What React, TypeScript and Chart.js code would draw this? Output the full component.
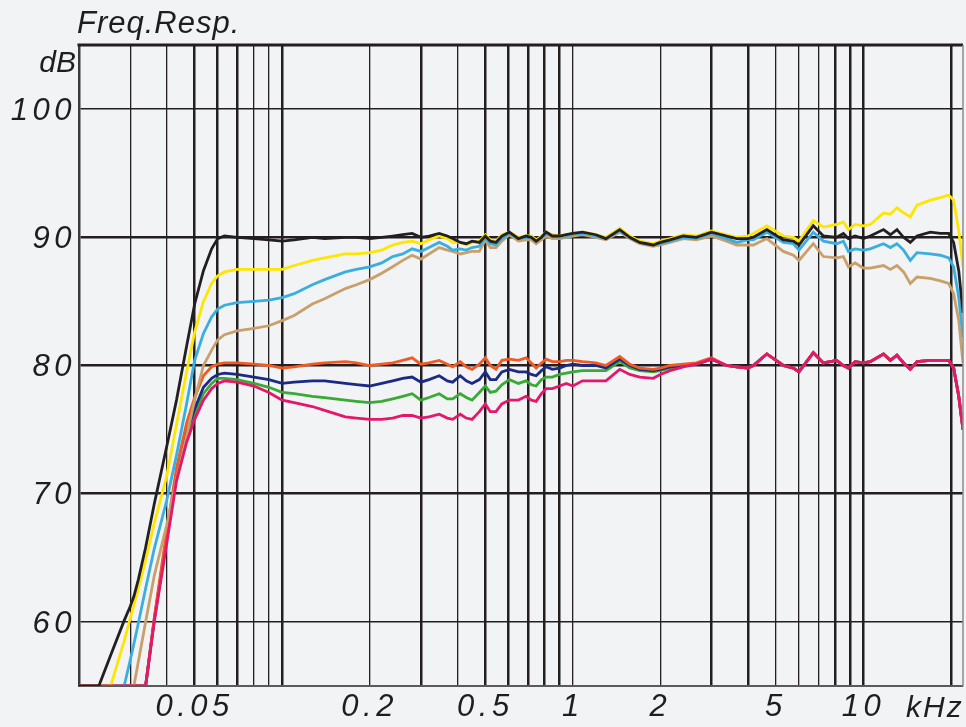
import { useEffect, useRef } from "react";
import { Chart, registerables } from "chart.js";

Chart.register(...registerables);

const TITLE = "Freq.Resp.";
const Y_UNIT = "dB";
const X_UNIT = "kHz";

// frequency points (kHz)
const FREQ_KHZ = [
  0.02, 0.0234, 0.0257, 0.0286, 0.03, 0.0309, 0.032, 0.0339, 0.0363, 0.04,
  0.0433, 0.0469, 0.05, 0.0536, 0.0572, 0.06, 0.0633, 0.07, 0.08, 0.09,
  0.1, 0.11, 0.127, 0.14, 0.165, 0.18, 0.2, 0.22, 0.24, 0.26,
  0.28, 0.3, 0.32, 0.347, 0.37, 0.386, 0.41, 0.43, 0.45, 0.477,
  0.5, 0.52, 0.544, 0.57, 0.605, 0.65, 0.69, 0.72, 0.748, 0.78,
  0.81, 0.85, 0.9, 0.95, 1.0, 1.08, 1.2, 1.3, 1.45, 1.57,
  1.7, 1.89, 2.0, 2.16, 2.4, 2.66, 3.0, 3.38, 3.66, 4.0,
  4.18, 4.65, 5.3, 5.74, 6.0, 6.72, 7.28, 8.09, 8.53, 8.87,
  9.36, 10.0, 10.55, 11.72, 12.37, 13.04, 13.74, 14.49, 15.28, 16.98,
  18.39, 19.64, 20.43, 21.27, 22.0,
];

const BLACK_DB = [
  55, 55, 57.4, 60.1, 61.2, 62.0, 63.3, 65.8, 69.2, 73.6,
  77.3, 81.5, 84.8, 87.4, 89.1, 89.9, 90.1, 90.0, 89.9, 89.8,
  89.7, 89.8, 90.0, 89.9, 90.0, 90.0, 89.9, 90.0, 90.1, 90.2,
  90.3, 90.0, 90.1, 90.3, 90.1, 89.9, 89.6, 89.5, 89.7, 89.6,
  90.1, 89.7, 89.6, 90.1, 90.4, 89.9, 90.1, 90.0, 89.7, 90.0,
  90.4, 90.1, 90.1, 90.2, 90.3, 90.4, 90.2, 89.9, 90.6, 90.0,
  89.6, 89.4, 89.6, 89.8, 90.1, 90.0, 90.4, 90.1, 89.9, 89.9,
  90.0, 90.6, 89.8, 89.7, 89.4, 90.9, 90.1, 90.0, 90.3, 89.9,
  90.1, 89.9, 90.1, 90.6, 90.2, 90.6, 90.0, 89.6, 90.1, 90.4,
  90.3, 90.3, 89.6, 87.4, 84.1,
];

const YELLOW_DB = [
  55, 55, 55, 58.5, 60.3, 61.3, 62.6, 64.8, 67.7, 71.3,
  75.4, 79.5, 82.6, 85.0, 86.4, 87.0, 87.3, 87.5, 87.5, 87.5,
  87.5, 87.8, 88.2, 88.4, 88.7, 88.7, 88.8, 89.0, 89.4, 89.6,
  89.7, 89.5, 89.8, 90.1, 89.9, 89.6, 89.6, 89.4, 89.6, 89.7,
  90.2, 89.8, 89.7, 90.2, 90.4, 90.0, 90.1, 90.1, 89.8, 90.1,
  90.4, 90.2, 90.1, 90.2, 90.3, 90.4, 90.2, 90.0, 90.7, 90.1,
  89.7, 89.5, 89.7, 89.9, 90.2, 90.1, 90.5, 90.2, 90.0, 90.1,
  90.3, 90.9, 90.1, 90.0, 89.7, 91.3, 90.8, 91.0, 91.2, 90.6,
  91.0, 90.9, 91.0, 91.9, 91.8, 92.3, 91.9, 91.6, 92.5, 92.9,
  93.1, 93.3, 92.9, 90.5, 87.7,
];

const BLUE_DB = [
  55, 55, 55, 55, 57.0, 58.3, 59.9, 62.6, 65.7, 69.4,
  73.0, 77.0, 80.4, 82.5, 83.8, 84.4, 84.7, 84.9, 85.0, 85.1,
  85.3, 85.6, 86.3, 86.7, 87.3, 87.5, 87.7, 88.0, 88.5, 88.7,
  89.1, 88.9, 89.2, 89.6, 89.3, 89.0, 89.1, 89.0, 89.2, 89.3,
  90.0, 89.5, 89.4, 89.9, 90.3, 89.9, 90.0, 90.0, 89.7, 90.0,
  90.3, 90.1, 90.0, 90.1, 90.2, 90.3, 90.1, 89.9, 90.5, 90.0,
  89.6, 89.4, 89.5, 89.7, 90.0, 89.9, 90.3, 89.9, 89.6, 89.8,
  89.8, 90.4, 89.6, 89.5, 89.0, 90.4, 89.7, 89.5, 89.7, 88.9,
  89.1, 89.0, 89.1, 89.5, 89.2, 89.5, 89.0, 88.2, 88.8, 88.7,
  88.6, 88.4, 87.7, 85.3, 82.2,
];

const TAN_DB = [
  55, 55, 55, 55, 55, 55, 56.9, 60.0, 63.6, 67.5,
  71.1, 74.5, 77.3, 80.0, 81.2, 82.0, 82.4, 82.7, 82.9, 83.1,
  83.5, 83.9, 84.8, 85.2, 86.0, 86.3, 86.7, 87.2, 87.7, 88.2,
  88.6, 88.3, 88.7, 89.2, 89.0, 88.9, 88.7, 88.8, 88.9, 88.9,
  89.8, 89.2, 89.2, 89.7, 90.2, 89.7, 89.8, 89.8, 89.5, 89.8,
  90.1, 89.9, 89.9, 90.0, 90.1, 90.2, 90.0, 89.8, 90.4, 89.9,
  89.5, 89.3, 89.4, 89.6, 89.9, 89.8, 90.1, 89.7, 89.4, 89.4,
  89.4, 89.9, 88.9, 88.6, 88.2, 89.5, 88.5, 88.4, 88.5, 87.7,
  88.0, 87.6, 87.6, 87.8, 87.5, 87.8, 87.3, 86.4, 86.9, 86.8,
  86.6, 86.4, 85.6, 83.5, 80.2,
];

const RED_DB = [
  55, 55, 55, 55, 55, 55, 55, 55, 60.3, 67.0,
  72.0, 75.5, 77.5, 79.2, 79.9, 80.1, 80.2, 80.2, 80.1, 80.0,
  79.8, 79.9, 80.1, 80.2, 80.3, 80.2, 80.0, 80.1, 80.2, 80.4,
  80.6, 80.1, 80.2, 80.4, 80.1, 79.9, 80.3, 79.9, 79.7, 80.1,
  80.6, 80.0, 79.7, 80.4, 80.5, 80.4, 80.6, 80.2, 79.8, 80.2,
  80.5, 80.3, 80.3, 80.4, 80.4, 80.3, 80.2, 80.0, 80.7, 80.1,
  79.8, 79.7, 79.8, 80.0, 80.1, 80.2, 80.6, 80.0, 79.9, 79.8,
  80.0, 80.9, 80.0, 79.8, 79.5, 81.0, 80.2, 80.4, 80.0, 79.8,
  80.3, 80.2, 80.3, 80.9, 80.4, 80.8, 80.2, 79.7, 80.3, 80.4,
  80.4, 80.4, 79.8, 77.6, 75.0,
];

const NAVY_DB = [
  55, 55, 55, 55, 55, 55, 55, 55, 60.2, 66.6,
  71.6, 74.8, 76.6, 78.3, 79.0, 79.3, 79.4, 79.3, 79.1, 78.9,
  78.6, 78.7, 78.8, 78.8, 78.6, 78.5, 78.4, 78.6, 78.8, 79.0,
  79.1, 78.7, 78.9, 79.2, 78.8, 78.7, 79.2, 78.8, 78.6, 78.9,
  79.5, 78.9, 78.9, 79.5, 79.7, 79.5, 79.5, 79.3, 79.2, 79.6,
  79.9, 79.7, 79.8, 80.0, 80.1, 80.0, 80.0, 79.8, 80.5, 80.0,
  79.7, 79.6, 79.7, 79.9, 80.0, 80.1, 80.5, 80.0, 79.9, 79.8,
  80.0, 80.9, 80.0, 79.8, 79.5, 81.0, 80.2, 80.4, 80.0, 79.8,
  80.3, 80.2, 80.3, 80.9, 80.4, 80.8, 80.2, 79.7, 80.3, 80.4,
  80.4, 80.4, 79.8, 77.6, 75.0,
];

const GREEN_DB = [
  55, 55, 55, 55, 55, 55, 55, 55, 60.1, 66.4,
  71.3, 74.4, 76.2, 77.8, 78.6, 79.0, 79.0, 78.9, 78.6, 78.3,
  77.9, 77.8, 77.6, 77.5, 77.3, 77.2, 77.1, 77.2, 77.4, 77.6,
  77.8, 77.3, 77.5, 77.8, 77.4, 77.4, 77.8, 77.5, 77.3, 77.9,
  78.4, 77.9, 78.0, 78.5, 78.9, 78.6, 78.8, 78.5, 78.4, 78.9,
  79.1, 79.1, 79.3, 79.4, 79.5, 79.6, 79.6, 79.6, 80.3, 79.8,
  79.6, 79.5, 79.6, 79.8, 80.0, 80.1, 80.5, 80.0, 79.9, 79.8,
  80.0, 80.9, 80.0, 79.8, 79.5, 81.0, 80.2, 80.4, 80.0, 79.8,
  80.3, 80.2, 80.3, 80.9, 80.4, 80.8, 80.2, 79.7, 80.3, 80.4,
  80.4, 80.4, 79.8, 77.6, 75.0,
];

const MAGENTA_DB = [
  55, 55, 55, 55, 55, 55, 55, 55, 60.0, 66.0,
  71.0, 74.0, 75.8, 77.3, 78.2, 78.6, 78.8, 78.7, 78.4, 77.9,
  77.3, 77.1, 76.8, 76.5, 76.0, 75.9, 75.8, 75.8, 75.9, 76.1,
  76.1, 75.9, 76.0, 76.2, 75.9, 75.8, 76.2, 75.9, 75.8, 76.4,
  77.0, 76.4, 76.4, 77.0, 77.3, 77.3, 77.6, 77.3, 77.2, 77.8,
  78.2, 78.2, 78.4, 78.6, 78.4, 78.8, 78.8, 78.8, 79.7, 79.3,
  79.1, 79.0, 79.3, 79.6, 79.9, 80.1, 80.5, 80.0, 79.9, 79.8,
  80.0, 80.9, 80.0, 79.8, 79.5, 81.0, 80.2, 80.4, 80.0, 79.8,
  80.3, 80.2, 80.3, 80.9, 80.4, 80.8, 80.2, 79.7, 80.3, 80.4,
  80.4, 80.4, 79.8, 77.6, 75.0,
];

const X_GRID = [
  0.02, 0.03, 0.04, 0.05, 0.06, 0.07, 0.08, 0.09,
  0.1, 0.2, 0.3, 0.4, 0.5, 0.6, 0.7, 0.8, 0.9,
  1, 2, 3, 4, 5, 6, 7, 8, 9, 10, 20,
];
const X_THICK = [0.05, 0.06, 0.07, 0.1, 0.3, 0.5, 0.6, 0.7, 0.8, 0.9, 3, 4, 8, 9, 10, 20];
const X_LABELS = [0.05, 0.2, 0.5, 1, 2, 5, 10];
const Y_TICKS = [60, 70, 80, 90, 100];
const Y_THICK = [70, 80, 90];

const SERIES = [
  { name: "black", data: BLACK_DB, color: "#231f20", order: 0 },
  { name: "magenta", data: MAGENTA_DB, color: "#e5176b", order: 1 },
  { name: "yellow", data: YELLOW_DB, color: "#ffe600", order: 2 },
  { name: "blue", data: BLUE_DB, color: "#3aaee0", order: 3 },
  { name: "tan", data: TAN_DB, color: "#c99f6b", order: 4 },
  { name: "red", data: RED_DB, color: "#f15a24", order: 5 },
  { name: "navy", data: NAVY_DB, color: "#1b2a85", order: 6 },
  { name: "green", data: GREEN_DB, color: "#3aa935", order: 7 },
];

const INK = "#231f20";
const FONT_FAMILY = '"Liberation Sans", Arial, sans-serif';

const framePlugin = {
  id: "frame",
  beforeDraw(chart: any) {
    (chart.ctx as any).letterSpacing = "4.5px";
  },
  afterDraw(chart: any) {
    const { ctx, chartArea: a } = chart;
    ctx.save();
    ctx.strokeStyle = INK;
    ctx.lineWidth = 3;
    ctx.beginPath();
    ctx.moveTo(a.left - 1.5, a.top);
    ctx.lineTo(a.right, a.top);
    ctx.stroke();
    ctx.strokeStyle = "#8c8c8c";
    ctx.lineWidth = 1.5;
    ctx.beginPath();
    ctx.moveTo(a.right, a.top);
    ctx.lineTo(a.right, a.bottom);
    ctx.stroke();
    ctx.fillStyle = "#1e1e1e";
    ctx.textBaseline = "alphabetic";
    ctx.font = `italic 31px ${FONT_FAMILY}`;
    (ctx as any).letterSpacing = "1px";
    ctx.textAlign = "left";
    ctx.fillText(TITLE, a.left - 2, 33);
    ctx.font = `italic 30px ${FONT_FAMILY}`;
    (ctx as any).letterSpacing = "0px";
    ctx.textAlign = "right";
    ctx.fillText(Y_UNIT, a.left - 3, 72);
    (ctx as any).letterSpacing = "2px";
    ctx.textAlign = "left";
    ctx.fillText(X_UNIT, 906, 717);
    ctx.restore();
  },
};

export default function App() {
  const canvasRef = useRef<HTMLCanvasElement | null>(null);

  useEffect(() => {
    if (!canvasRef.current) return;
    const chart = new Chart(canvasRef.current, {
      type: "line",
      data: {
        datasets: SERIES.map((s) => ({
          label: s.name,
          data: FREQ_KHZ.map((f, i) => ({ x: f, y: s.data[i] })),
          borderColor: s.color,
          backgroundColor: s.color,
          borderWidth: 2.8,
          pointRadius: 0,
          tension: 0,
          fill: false,
          order: s.order,
        })),
      },
      options: {
        animation: false,
        responsive: true,
        maintainAspectRatio: false,
        events: [],
        layout: { padding: { top: 45, right: 3, bottom: 0, left: 0 } },
        plugins: {
          legend: { display: false },
          tooltip: { enabled: false },
          title: { display: false },
        },
        scales: {
          x: {
            type: "logarithmic",
            min: 0.02,
            max: 22,
            afterBuildTicks: (scale: any) => {
              scale.ticks = X_GRID.map((v) => ({ value: v }));
            },
            afterFit: (scale: any) => {
              scale.height = 41;
            },
            grid: {
              drawTicks: false,
              color: INK,
              lineWidth: (ctx: any) =>
                ctx.tick && X_THICK.includes(ctx.tick.value) ? 2.5 : 1.3,
            },
            border: { display: true, color: "#5a5a5a", width: 2 },
            ticks: {
              autoSkip: false,
              maxRotation: 0,
              minRotation: 0,
              padding: 3,
              color: "#1e1e1e",
              font: { family: FONT_FAMILY, size: 31, style: "italic" },
              callback: (value: any) =>
                X_LABELS.includes(Number(value)) ? String(value) : "",
            },
          },
          y: {
            type: "linear",
            min: 55,
            max: 105,
            afterBuildTicks: (scale: any) => {
              scale.ticks = Y_TICKS.map((v) => ({ value: v }));
            },
            afterFit: (scale: any) => {
              scale.width = 79;
            },
            grid: {
              drawTicks: false,
              color: INK,
              lineWidth: (ctx: any) =>
                ctx.tick && Y_THICK.includes(ctx.tick.value) ? 2.6 : 1.5,
            },
            border: { display: true, color: "#3a3a3a", width: 2.5 },
            ticks: {
              padding: 3,
              labelOffset: 2,
              color: "#1e1e1e",
              font: { family: FONT_FAMILY, size: 31, style: "italic" },
              callback: (value: any) => String(value),
            },
          },
        },
      },
      plugins: [framePlugin],
    } as any);
    return () => chart.destroy();
  }, []);

  return (
    <div
      style={{
        position: "absolute",
        left: 0,
        top: 0,
        width: 966,
        height: 727,
        background: "#f1f3f5",
      }}
    >
      <canvas ref={canvasRef} />
    </div>
  );
}
